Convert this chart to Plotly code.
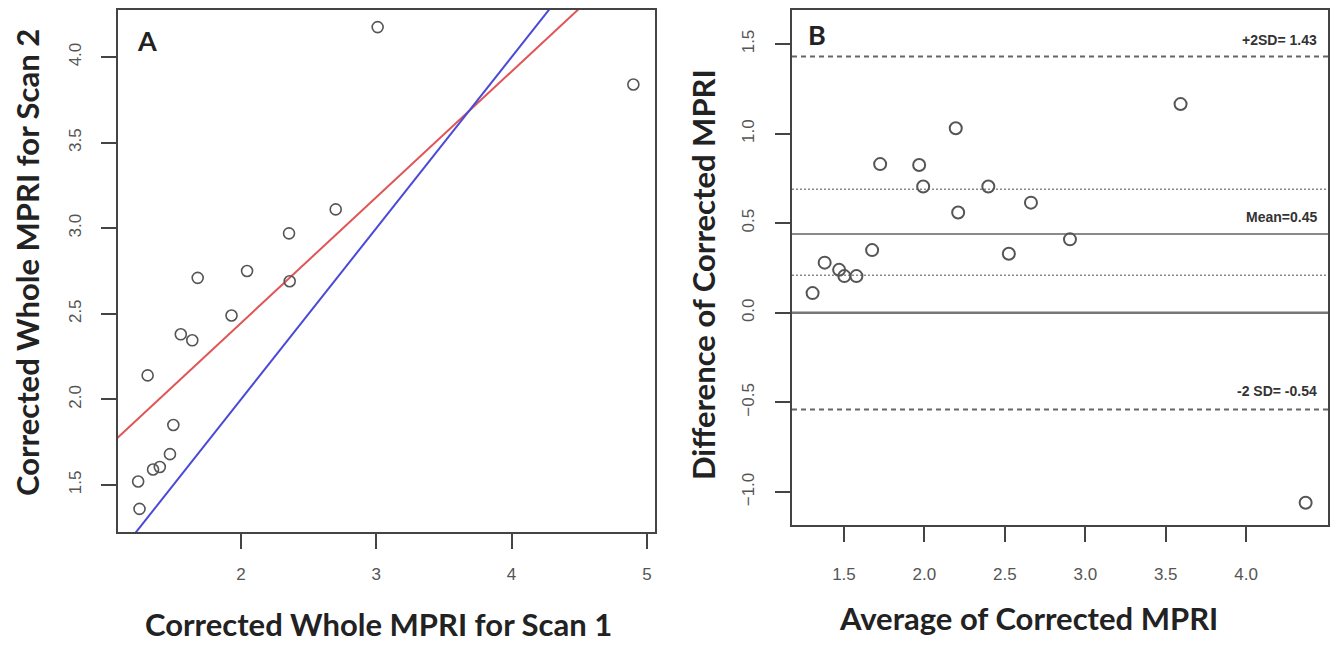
import plotly.graph_objects as go

# ---- data ----
scan1 = [1.24, 1.25, 1.31, 1.35, 1.40, 1.475, 1.50, 1.555, 1.64, 1.68, 1.93, 2.045, 2.355, 2.36, 2.70, 3.01, 4.90]
scan2 = [1.52, 1.36, 2.14, 1.59, 1.605, 1.68, 1.85, 2.38, 2.345, 2.71, 2.49, 2.75, 2.97, 2.69, 3.11, 4.175, 3.84]

fit_intercept = 0.976
fit_slope = 0.735

mean_diff = 0.44
upper_sd = 1.43
lower_sd = -0.54
ci_upper = 0.69
ci_lower = 0.21

labels_b = ["+2SD= 1.43", "Mean=0.45", "-2 SD= -0.54"]

avg = [(a + b) / 2 for a, b in zip(scan1, scan2)]
diff = [b - a for a, b in zip(scan1, scan2)]

AX = "#444444"
TXT = "#555555"
PT = "#555555"

W, H = 1336, 645
def PX(p):
    return p / W
def PY(p):
    return 1 - p / H

fig = go.Figure()

# Panel A
xr_a = [1.091, 5.06]
yr_a = [1.225, 4.275]
fig.add_trace(go.Scatter(x=[1.0, 5.0], y=[fit_intercept + fit_slope * 1.0, fit_intercept + fit_slope * 5.0],
                         mode="lines", line=dict(color="#e05555", width=2), xaxis="x", yaxis="y", showlegend=False))
fig.add_trace(go.Scatter(x=[1.0, 5.0], y=[1.0, 5.0], mode="lines",
                         line=dict(color="#4a4ad6", width=2), xaxis="x", yaxis="y", showlegend=False))
fig.add_trace(go.Scatter(x=scan1, y=scan2, mode="markers",
                         marker=dict(symbol="circle-open", size=11, color=PT, line=dict(width=1.6, color=PT)),
                         xaxis="x", yaxis="y", showlegend=False))

# Panel B
xr_b = [1.177, 4.509]
yr_b = [-1.184, 1.69]
def hline(y, dash, width, color):
    fig.add_trace(go.Scatter(x=xr_b, y=[y, y], mode="lines", line=dict(color=color, width=width, dash=dash),
                             xaxis="x2", yaxis="y2", showlegend=False, hoverinfo="skip"))

hline(upper_sd, "5px,4px", 2, "#666666")
hline(lower_sd, "5px,4px", 2, "#666666")
hline(ci_upper, "2px,2px", 1.6, "#8a8a8a")
hline(ci_lower, "2px,2px", 1.6, "#8a8a8a")
hline(mean_diff, "solid", 2, "#8a8a8a")
hline(0.0, "solid", 2.5, "#777777")

fig.add_trace(go.Scatter(x=avg, y=diff, mode="markers",
                         marker=dict(symbol="circle-open", size=12, color=PT, line=dict(width=2, color=PT)),
                         xaxis="x2", yaxis="y2", showlegend=False))

tickfont = dict(family="Liberation Sans, Arial, sans-serif", size=17, color=TXT)
common = dict(showline=True, linecolor=AX, linewidth=2, mirror=True, ticks="outside", ticklen=15,
              tickwidth=2, tickcolor=AX, showgrid=False, zeroline=False, tickfont=tickfont)

fig.update_layout(
    width=W, height=H, paper_bgcolor="white", plot_bgcolor="white",
    margin=dict(l=0, r=0, t=0, b=0),
    xaxis=dict(domain=[PX(118), PX(655)], range=xr_a, anchor="y", tickvals=[2, 3, 4, 5],
               ticktext=["2", "3", "4", "5"], ticklabelstandoff=11, **common),
    yaxis=dict(domain=[PY(532), PY(10)], range=yr_a, anchor="x",
               tickvals=[1.5, 2.0, 2.5, 3.0, 3.5, 4.0], tickformat=".1f", tickangle=-90,
               ticklabelstandoff=13, **common),
    xaxis2=dict(domain=[PX(792), PX(1328)], range=xr_b, anchor="y2",
                tickvals=[1.5, 2.0, 2.5, 3.0, 3.5, 4.0], tickformat=".1f", ticklabelstandoff=18, **common),
    yaxis2=dict(domain=[PY(525), PY(10)], range=yr_b, anchor="x2",
                tickvals=[-1.0, -0.5, 0.0, 0.5, 1.0, 1.5], tickformat=".1f", tickangle=-90,
                ticklabelstandoff=14, **common),
)

titlefont = dict(family="Lato, Open Sans, sans-serif", size=31, color="#222222")
ann = []
ann.append(dict(text="<b>Corrected Whole MPRI for Scan 1</b>", x=PX(378), y=PY(624),
                xref="paper", yref="paper", showarrow=False, font=titlefont, xanchor="center", yanchor="middle"))
ann.append(dict(text="<b>Corrected Whole MPRI for Scan 2</b>", x=PX(27), y=PY(263), textangle=-90,
                xref="paper", yref="paper", showarrow=False, font=titlefont, xanchor="center", yanchor="middle"))
ann.append(dict(text="<b>Average of Corrected MPRI</b>", x=PX(1028), y=PY(618),
                xref="paper", yref="paper", showarrow=False, font=titlefont, xanchor="center", yanchor="middle"))
ann.append(dict(text="<b>Difference of Corrected MPRI</b>", x=PX(703), y=PY(275), textangle=-90,
                xref="paper", yref="paper", showarrow=False, font=titlefont, xanchor="center", yanchor="middle"))
panelfont = dict(family="Lato, Open Sans, sans-serif", size=27, color="#222222")
ann.append(dict(text="<b>A</b>", x=PX(147), y=PY(40), xref="paper", yref="paper", showarrow=False,
                font=panelfont, xanchor="center", yanchor="middle"))
ann.append(dict(text="<b>B</b>", x=PX(817), y=PY(34), xref="paper", yref="paper", showarrow=False,
                font=panelfont, xanchor="center", yanchor="middle"))
smallfont = dict(family="Liberation Sans Narrow, Arial Narrow, sans-serif", size=14, color="#333333")
for txt, yv, ys in zip(labels_b, [upper_sd, mean_diff, lower_sd], [7, 7, 9]):
    ann.append(dict(text="<b>" + txt + "</b>", x=4.45, y=yv, xref="x2", yref="y2", showarrow=False,
                    font=smallfont, xanchor="right", yanchor="bottom", yshift=ys))
fig.update_layout(annotations=ann)

# remove the default 8px page margin so the figure fills the window exactly
fig.write_html("out.html", config={"displayModeBar": False},
               post_script="document.body.style.margin='0';document.body.style.overflow='hidden';")
